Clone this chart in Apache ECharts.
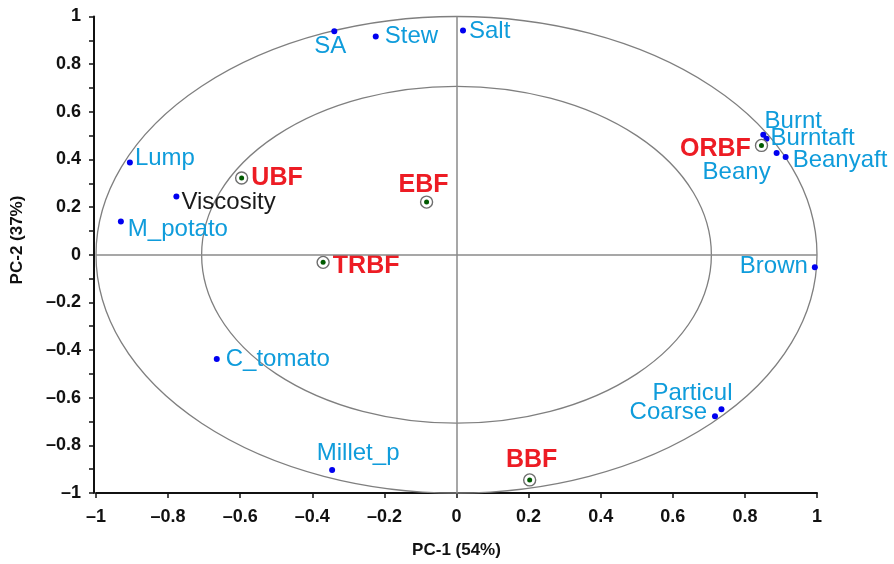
<!DOCTYPE html>
<html>
<head>
<meta charset="utf-8">
<script src="https://cdn.jsdelivr.net/npm/echarts@6/dist/echarts.min.js"></script>
<style>
html,body{margin:0;padding:0;background:#fff;}
#chart{width:894px;height:564px;}
</style>
</head>
<body>
<div id="chart"></div>
<script>
// variables (loadings)
var varNames = ['SA','Stew','Salt','Lump','Viscosity','M_potato','C_tomato','Millet_p','Brown','Burnt','Burntaft','Beany','Beanyaft','Particul','Coarse'];
var varX = [-0.339,-0.224,0.018,-0.906,-0.777,-0.931,-0.665,-0.345,0.994,0.851,0.860,0.888,0.913,0.735,0.717];
var varY = [0.938,0.916,0.941,0.387,0.245,0.140,-0.438,-0.903,-0.052,0.504,0.487,0.427,0.410,-0.648,-0.678];

// observations (products)
var obsNames = ['UBF','EBF','TRBF','ORBF','BBF'];
var obsX = [-0.596,-0.083,-0.370,0.846,0.203];
var obsY = [0.322,0.221,-0.032,0.459,-0.945];

// correlation circles
var circleRadii = [1, 0.707];

// label placement
var labelPlace = {
  'SA':       {position:'inside', offset:[-4,15]},
  'Stew':     {position:'right', distance:6},
  'Salt':     {position:'right', distance:3, offset:[0,1]},
  'Lump':     {position:'right', distance:2, offset:[0,-4]},
  'Viscosity':{position:'right', distance:2, offset:[0,6], color:'#1a1a1a'},
  'M_potato': {position:'right', distance:4, offset:[0,8]},
  'C_tomato': {position:'right', distance:6, offset:[0,0]},
  'Millet_p': {position:'inside', offset:[26,-17]},
  'Brown':    {position:'left', distance:4, offset:[0,-1]},
  'Burnt':    {position:'inside', offset:[30,-13]},
  'Burntaft': {position:'right', distance:1},
  'Beany':    {position:'inside', offset:[-40,19]},
  'Beanyaft': {position:'right', distance:4, offset:[0,3]},
  'Particul': {position:'inside', offset:[-29,-16]},
  'Coarse':   {position:'left', distance:5, offset:[0,-4]},
  'UBF':      {position:'right', distance:3},
  'EBF':      {position:'inside', offset:[-3,-17]},
  'TRBF':     {position:'right', distance:3, offset:[0,4]},
  'ORBF':     {position:'left', distance:4, offset:[0,4]},
  'BBF':      {position:'inside', offset:[2,-20]}
};

var FONT = '"Liberation Sans", Arial, sans-serif';

function tickFmt(v){
  var r = Math.round(v*10)/10;
  return String(r).replace('-', '\u2013');
}

function buildData(names, xs, ys){
  return names.map(function(n, i){
    return {name:n, value:[xs[i], ys[i]], label:labelPlace[n]};
  });
}

var myChart = echarts.init(document.getElementById('chart'));
var option = {
  animation:false,
  backgroundColor:'#fff',
  grid:{left:96, right:77, top:16.5, bottom:71},
  xAxis:{
    type:'value', min:-1, max:1, interval:0.2,
    name:'PC-1 (54%)', nameLocation:'middle', nameGap:49,
    nameTextStyle:{fontFamily:FONT, fontWeight:'bold', fontSize:17, color:'#111'},
    axisLine:{show:true, onZero:false, lineStyle:{color:'#111', width:2}},
    axisTick:{show:true, length:5, lineStyle:{color:'#111', width:1.5}},
    axisLabel:{formatter:tickFmt, fontFamily:FONT, fontWeight:'bold', fontSize:18, color:'#111', margin:15},
    splitLine:{show:false}
  },
  yAxis:{
    type:'value', min:-1, max:1, interval:0.2, offset:2,
    axisLine:{show:true, onZero:false, lineStyle:{color:'#111', width:2}},
    axisTick:{show:true, length:5, lineStyle:{color:'#111', width:1.5}},
    minorTick:{show:true, splitNumber:2, length:5, lineStyle:{color:'#111', width:1.5}},
    axisLabel:{formatter:tickFmt, fontFamily:FONT, fontWeight:'bold', fontSize:18, color:'#111', margin:13},
    splitLine:{show:false}
  },
  graphic:[{
    type:'text', x:17, y:240, rotation:Math.PI/2,
    style:{text:'PC-2 (37%)', font:'bold 17px ' + FONT, fill:'#111', align:'center', verticalAlign:'middle'}
  }],
  series:[
    {
      type:'custom', z:1, silent:true, clip:false,
      data:circleRadii.map(function(r){ return [0,0,r]; }),
      renderItem:function(params, api){
        var r = api.value(2);
        var c = api.coord([0,0]);
        var p = api.coord([r, r]);
        var rx = p[0]-c[0], ry = c[1]-p[1];
        var d = 'M '+(c[0]-rx)+' '+c[1]+' A '+rx+' '+ry+' 0 1 0 '+(c[0]+rx)+' '+c[1]+
                ' A '+rx+' '+ry+' 0 1 0 '+(c[0]-rx)+' '+c[1]+' Z';
        return {type:'path', shape:{pathData:d}, style:{fill:'none', stroke:'#7f7f7f', lineWidth:1.3}};
      },
      markLine:{
        silent:true, symbol:'none', label:{show:false},
        lineStyle:{color:'#8a8a8a', width:1.5, type:'solid', opacity:1},
        data:[{xAxis:0},{yAxis:0}]
      }
    },
    {
      name:'variables', type:'scatter', z:3,
      symbol:'circle', symbolSize:6,
      itemStyle:{color:'#0000f0', opacity:1},
      label:{show:true, formatter:'{b}', fontFamily:FONT, fontSize:24, color:'#0f9cdb'},
      data:buildData(varNames, varX, varY)
    },
    {
      name:'obsRing', type:'scatter', z:4,
      symbol:'circle', symbolSize:12,
      itemStyle:{color:'#fff', borderColor:'#6e6e6e', borderWidth:1.4, opacity:1},
      label:{show:true, formatter:'{b}', fontFamily:FONT, fontSize:25, fontWeight:'bold', color:'#ed1c24'},
      data:buildData(obsNames, obsX, obsY)
    },
    {
      name:'obsDot', type:'scatter', z:5,
      symbol:'circle', symbolSize:5,
      itemStyle:{color:'#005a00', opacity:1},
      data:obsX.map(function(x, i){ return [x, obsY[i]]; })
    }
  ]
};
myChart.setOption(option);
window.addEventListener('resize', function(){
  myChart.resize();
});
</script>
</body>
</html>
